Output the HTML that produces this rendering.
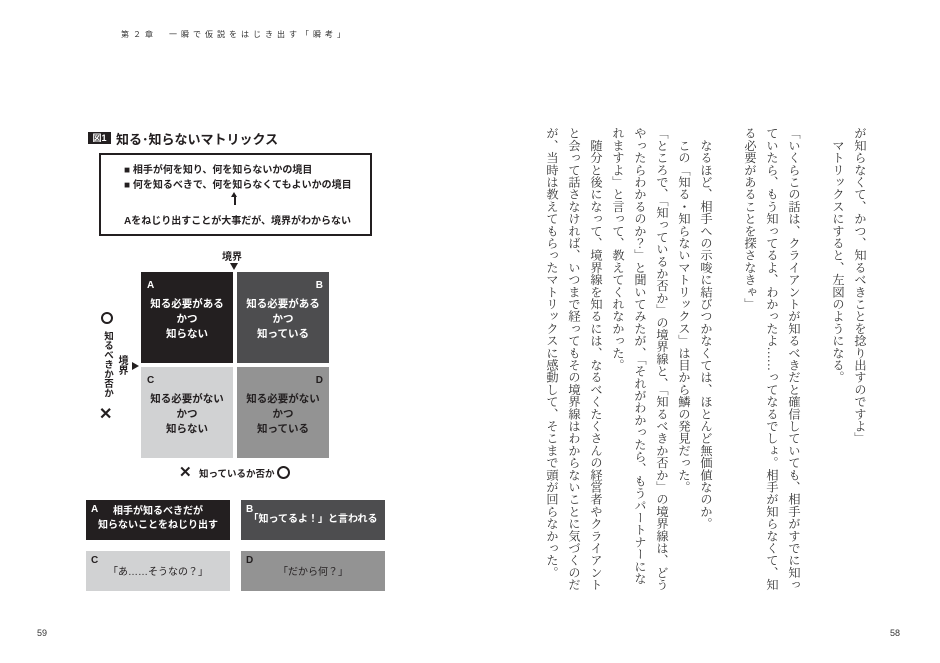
<!DOCTYPE html>
<html><head><meta charset="utf-8"><style>
*{margin:0;padding:0;box-sizing:border-box}
body{width:940px;height:663px;background:#fff;position:relative;overflow:hidden;font-family:"Liberation Sans","Noto Sans CJK JP",sans-serif;color:#231f20}
.a{position:absolute}
.hdr{left:121px;top:29px;font-size:8px;letter-spacing:4px;color:#333;white-space:nowrap}
.pn{font-size:9px;color:#333;top:628px}
.b{font-weight:bold}
.q{position:absolute;color:#fff;font-weight:bold;font-size:10.5px;text-align:center;line-height:15px}
.q .l{position:absolute;top:6px;font-size:10px}
.q .t{position:absolute;left:0;right:0;top:25px}
.lb{position:absolute;font-weight:bold;font-size:10px;color:#fff;text-align:center;line-height:14px}
.lb .l{position:absolute;left:5px;top:3px;font-size:10px}
.vt{writing-mode:vertical-rl;font-family:"Liberation Serif","Noto Serif CJK JP",serif;font-size:12.2px;line-height:22px;color:#333;position:absolute;top:127px;right:69px;height:480px;white-space:pre}
</style></head><body>
<div class="a hdr">第２章　一瞬で仮説をはじき出す「瞬考」</div>
<div class="a pn" style="left:37px">59</div>
<div class="a pn" style="left:890px">58</div>

<div class="a b" style="left:88px;top:132px;width:23px;height:12px;background:#231f20;color:#fff;font-size:9px;line-height:12px;text-align:center">図1</div>
<div class="a b" style="left:116px;top:129px;font-size:13px">知る･知らないマトリックス</div>

<div class="a" style="left:99px;top:153px;width:273px;height:83px;border:2px solid #231f20"></div>
<div class="a b" style="left:124px;top:163px;font-size:10px;line-height:15px">■ 相手が何を知り、何を知らないかの境目<br>■ 何を知るべきで、何を知らなくてもよいかの境目</div>
<div class="a" style="left:234px;top:195px;width:1.5px;height:10px;background:#231f20"></div>
<div class="a" style="left:231px;top:192px;width:0;height:0;border-left:3.5px solid transparent;border-right:3.5px solid transparent;border-bottom:5px solid #231f20"></div>
<div class="a b" style="left:124px;top:212px;font-size:10px">Aをねじり出すことが大事だが、境界がわからない</div>

<div class="a b" style="left:222px;top:248px;font-size:10px">境界</div>
<div class="a" style="left:230px;top:263px;border-left:4.5px solid transparent;border-right:4.5px solid transparent;border-top:7px solid #231f20"></div>

<div class="q" style="left:141px;top:272px;width:92px;height:91px;background:#231f20"><span class="l" style="left:6px">A</span><div class="t">知る必要がある<br>かつ<br>知らない</div></div>
<div class="q" style="left:237px;top:272px;width:92px;height:91px;background:#4d4d4f"><span class="l" style="right:6px">B</span><div class="t">知る必要がある<br>かつ<br>知っている</div></div>
<div class="q" style="left:141px;top:367px;width:92px;height:91px;background:#d1d2d3;color:#231f20"><span class="l" style="left:6px">C</span><div class="t">知る必要がない<br>かつ<br>知らない</div></div>
<div class="q" style="left:237px;top:367px;width:92px;height:91px;background:#939393;color:#231f20"><span class="l" style="right:6px">D</span><div class="t">知る必要がない<br>かつ<br>知っている</div></div>

<div class="a" style="left:101px;top:312px;width:12px;height:12px;border:2.5px solid #231f20;border-radius:50%"></div>
<div class="a b" style="left:101px;top:331px;writing-mode:vertical-rl;font-size:9.5px;line-height:12px">知るべきか否か</div>
<div class="a b" style="left:99px;top:404px;font-size:16px">✕</div>
<div class="a b" style="left:116px;top:355px;writing-mode:vertical-rl;font-size:10px;line-height:11px">境界</div>
<div class="a" style="left:132px;top:362px;border-top:4px solid transparent;border-bottom:4px solid transparent;border-left:7px solid #231f20"></div>

<div class="a b" style="left:179px;top:463px;font-size:15px">✕</div>
<div class="a b" style="left:199px;top:466px;font-size:9.5px">知っているか否か</div>
<div class="a" style="left:277px;top:466px;width:13px;height:13px;border:2.5px solid #231f20;border-radius:50%"></div>

<div class="lb" style="left:86px;top:500px;width:144px;height:40px;background:#231f20;padding-top:5px"><span class="l">A</span>相手が知るべきだが<br>知らないことをねじり出す</div>
<div class="lb" style="left:241px;top:500px;width:144px;height:40px;background:#4d4d4f;padding-top:13px"><span class="l">B</span>「知ってるよ！」と言われる</div>
<div class="lb" style="left:86px;top:551px;width:144px;height:40px;background:#d1d2d3;color:#231f20;padding-top:15px;font-weight:normal"><span class="l b" style="font-weight:bold">C</span>「あ……そうなの？」</div>
<div class="lb" style="left:241px;top:551px;width:144px;height:40px;background:#939393;color:#231f20;padding-top:15px;font-weight:normal"><span class="l" style="font-weight:bold">D</span>「だから何？」</div>

<div class="vt">が知らなくて、かつ、知るべきことを捻り出すのですよ」
　マトリックスにすると、左図のようになる。

「いくらこの話は、クライアントが知るべきだと確信していても、相手がすでに知っ
ていたら、もう知ってるよ、わかったよ……ってなるでしょ。相手が知らなくて、知
る必要があることを探さなきゃ」

　なるほど、相手への示唆に結びつかなくては、ほとんど無価値なのか。
　この「知る・知らないマトリックス」は目から鱗の発見だった。
「ところで、「知っているか否か」の境界線と、「知るべきか否か」の境界線は、どう
やったらわかるのか？」と聞いてみたが、「それがわかったら、もうパートナーにな
れますよ」と言って、教えてくれなかった。
　随分と後になって、境界線を知るには、なるべくたくさんの経営者やクライアント
と会って話さなければ、いつまで経ってもその境界線はわからないことに気づくのだ
が、当時は教えてもらったマトリックスに感動して、そこまで頭が回らなかった。</div>
</body></html>
